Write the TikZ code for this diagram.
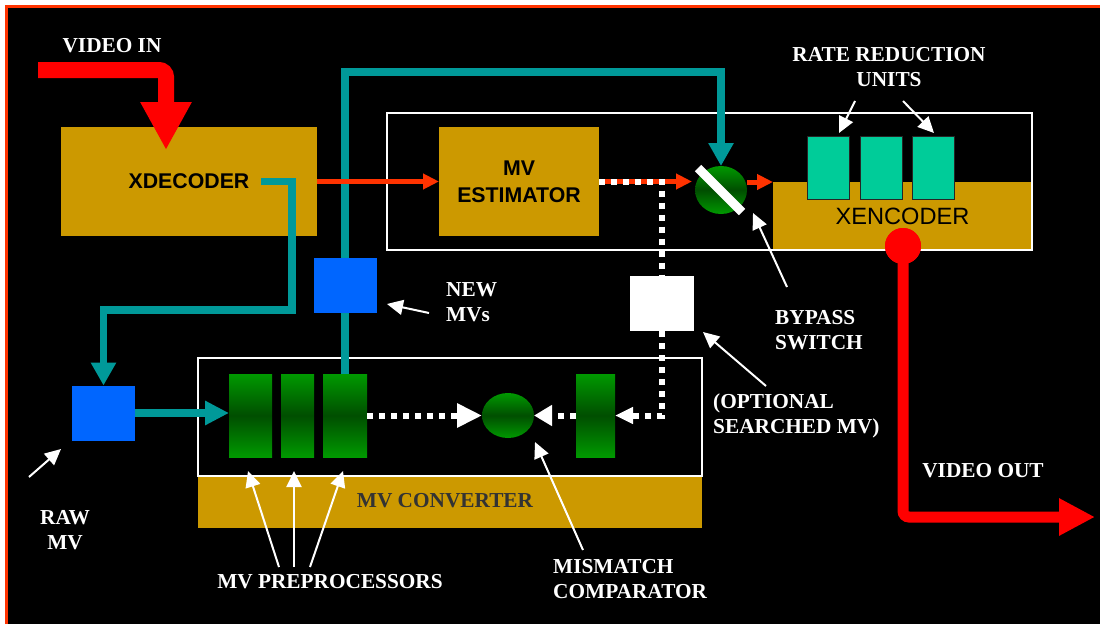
\documentclass[tikz,border=0pt]{standalone}
\usepackage{fontspec}
\setmainfont{Liberation Serif}
\newfontfamily\arialfont{Liberation Sans}
\usetikzlibrary{arrows.meta,shapes.geometric,calc}
\definecolor{goldc}{HTML}{CC9900}
\definecolor{tealc}{HTML}{009999}
\definecolor{bluec}{HTML}{0066FF}
\definecolor{orangec}{HTML}{FF3300}
\definecolor{redc}{HTML}{FF0000}
\definecolor{grnc}{HTML}{009900}
\definecolor{dgrnc}{HTML}{004E00}
\definecolor{unitc}{HTML}{00CC99}
\definecolor{convtxt}{HTML}{333333}
\tikzset{
  goldbox/.style={fill=goldc, draw=none, inner sep=0pt, outer sep=0pt},
  framebox/.style={draw=white, line width=2pt, inner sep=0pt, outer sep=0pt},
  bluebox/.style={fill=bluec, draw=none, inner sep=0pt, outer sep=0pt},
  greenbox/.style={top color=grnc, bottom color=grnc, middle color=dgrnc, draw=none, inner sep=0pt, outer sep=0pt},
  greenoval/.style={ellipse, top color=grnc, bottom color=grnc, middle color=dgrnc, draw=none, inner sep=0pt, outer sep=0pt},
  unitbox/.style={fill=unitc, draw=black!85, line width=1pt, inner sep=0pt, outer sep=0pt, minimum width=42pt, minimum height=63pt},
  boxfont/.style={font=\arialfont\fontsize{21.3}{27}\selectfont\bfseries, text=black},
  lbl/.style={font=\fontsize{21.3}{25}\selectfont\bfseries, text=white, inner sep=0pt},
  tealln/.style={draw=tealc, line width=7.5pt},
  redln/.style={draw=orangec, line width=5pt},
  dotln/.style={draw=white, line width=6pt, dash pattern=on 6pt off 6pt},
  annot/.style={draw=white, line width=2pt, -{Triangle[length=16pt,width=15pt]}},
}
\begin{document}
\begin{tikzpicture}[x=1pt,y=-1pt]
\useasboundingbox (0,0) rectangle (1100,624);
\fill[white] (0,0) rectangle (1100,624);
\fill[black] (6,6) rectangle (1100,624);
\draw[orangec, line width=2.5pt] (6.5,624) -- (6.5,6.5) -- (1100,6.5);

% gold blocks
\node[goldbox, boxfont, minimum width=256pt, minimum height=109pt] (xdec) at (189,181.5) {XDECODER};
\node[goldbox, boxfont, align=center, minimum width=160pt, minimum height=109pt] (mve) at (519,181.5) {MV\\ESTIMATOR};
\node[goldbox, font=\arialfont\fontsize{23.6}{28}\selectfont, text=black, minimum width=259pt, minimum height=69pt] (xenc) at (902.5,216.5) {XENCODER};
\node[goldbox, minimum width=504pt, minimum height=52pt] (band) at (450,502) {};
\node[lbl, text=convtxt] (convlbl) at (445,501) {MV CONVERTER};

% frames
\node[framebox, minimum width=645pt, minimum height=137pt] (encframe) at (709.5,181.5) {};
\node[framebox, minimum width=504pt, minimum height=118pt] (convframe) at (450,417) {};

% blocks
\node[bluebox, minimum width=63pt, minimum height=55pt] (raw) at (103.5,413) {};
\node[greenbox, minimum width=43pt, minimum height=83pt] (p1) at (250.5,415.5) {};
\node[greenbox, minimum width=33pt, minimum height=83pt] (p2) at (297.5,415.5) {};
\node[greenbox, minimum width=44pt, minimum height=83pt] (p3) at (345,415.5) {};
\node[bluebox, minimum width=63pt, minimum height=55pt] (newmv) at (345,285.5) {};
\node[greenoval, minimum width=52pt, minimum height=45pt] (cmp) at (508,415.5) {};
\node[greenbox, minimum width=39pt, minimum height=83pt] (cmpr) at (595.5,415.5) {};
\node[fill=white, inner sep=0pt, outer sep=0pt, minimum width=64pt, minimum height=55pt] (optbox) at (662,303.5) {};
\node[greenoval, minimum width=52pt, minimum height=48pt] (sw) at (721,190) {};
\node[unitbox] (u1) at (828,167.5) {};
\node[unitbox] (u2) at (881,167.5) {};
\node[unitbox] (u3) at (933.5,167.5) {};

% video in
\coordinate (vinstart) at (38,70);
\coordinate (vintip) at (166,150);
\draw[redc, line width=16pt, rounded corners=7pt, -{Triangle[length=48pt,width=48pt]}] (vinstart) -| (vintip);

% teal lines
\coordinate (xdecout) at (261,181.5);
\draw[tealln, -{Triangle[length=23pt,width=24pt]}] (xdecout) -- (292,181.5) -- (292,310) -| (raw.north);
\draw[tealln, -{Triangle[length=24pt,width=23pt]}] (raw.east) -- (raw.east -| p1.west);
\draw[tealln] (p3.north) -- (newmv.south);
\draw[tealln, -{Triangle[length=23pt,width=24pt]}] (newmv.north) |- ($(sw.north)+(0,-94)$) -- (sw.north);

% red MV path
\draw[redln, -{Triangle[length=16pt,width=15pt]}] (xdec.east) -- (mve.west);
\coordinate (split) at (662,181.5);
\coordinate (swin) at (692,181.5);
\draw[redln, -{Triangle[length=16pt,width=15pt]}] (mve.east) -- (swin);
\draw[dotln] (mve.east) -- (split) -- (optbox.north);
\draw[dotln, -{Triangle[length=18pt,width=16pt]}] (optbox.south) |- (cmpr.east);
\draw[dotln, -{Triangle[length=18pt,width=20pt]}] (cmpr.west) -- (cmp.east);
\draw[dotln, -{Triangle[length=25pt,width=23pt]}] (p3.east) -- (cmp.west);
\coordinate (swout) at (747,182);
\draw[redln, -{Triangle[length=16pt,width=15pt]}] (swout) -- (swout -| xenc.west);

% switch bar
\draw[white, line width=9pt] ($(sw)+(-23,-22)$) -- ($(sw)+(21,22)$);

% video out
\node[circle, fill=redc, inner sep=0pt, minimum size=36pt] (rc) at (903,246) {};
\coordinate (vouttip) at (1095,517);
\draw[redc, line width=11pt, rounded corners=6pt, -{Triangle[length=36pt,width=35pt]}] (rc.center) |- (vouttip);
\node[circle, fill=redc, inner sep=0pt, minimum size=36pt] at (rc) {};

% labels
\node[lbl] (lvin) at (112,46) {VIDEO IN};
\node[lbl] (lvout) at (983,471) {VIDEO OUT};
\node[lbl, align=center] (lrate) at (889,67) {RATE REDUCTION\\UNITS};
\node[lbl, align=left, anchor=west] (lnew) at (446,302) {NEW\\MVs};
\node[lbl, align=center] (lraw) at (65,530) {RAW\\MV};
\node[lbl] (lpre) at (330,582) {MV PREPROCESSORS};
\node[lbl, align=left, anchor=west] (lmis) at (553,579) {MISMATCH\\COMPARATOR};
\node[lbl, align=left, anchor=west] (lbyp) at (775,330) {BYPASS\\SWITCH};
\node[lbl, align=left, anchor=west] (lopt) at (713,416) {(OPTIONAL\\SEARCHED MV)};

% annotation arrows
\coordinate (anew) at (429,313); \coordinate (tnew) at (387,304);
\draw[annot] (anew) -- (tnew);
\coordinate (araw) at (29,477); \coordinate (traw) at (61,449);
\draw[annot] (araw) -- (traw);
\coordinate (apre1) at (279,567); \coordinate (tpre1) at (248,471);
\coordinate (apre2) at (294,567); \coordinate (tpre2) at (294,471);
\coordinate (apre3) at (310,567); \coordinate (tpre3) at (343,471);
\draw[annot] (apre1) -- (tpre1);
\draw[annot] (apre2) -- (tpre2);
\draw[annot] (apre3) -- (tpre3);
\coordinate (amis) at (583,550); \coordinate (tmis) at (535,442);
\draw[annot] (amis) -- (tmis);
\coordinate (abyp) at (787,287); \coordinate (tbyp) at (753,213);
\draw[annot] (abyp) -- (tbyp);
\coordinate (aopt) at (766,386); \coordinate (topt) at (703,332);
\draw[annot] (aopt) -- (topt);
\coordinate (arate1) at (855,101); \coordinate (trate1) at (839,133);
\coordinate (arate2) at (903,101); \coordinate (trate2) at (934,133);
\draw[annot] (arate1) -- (trate1);
\draw[annot] (arate2) -- (trate2);
\end{tikzpicture}
\end{document}
